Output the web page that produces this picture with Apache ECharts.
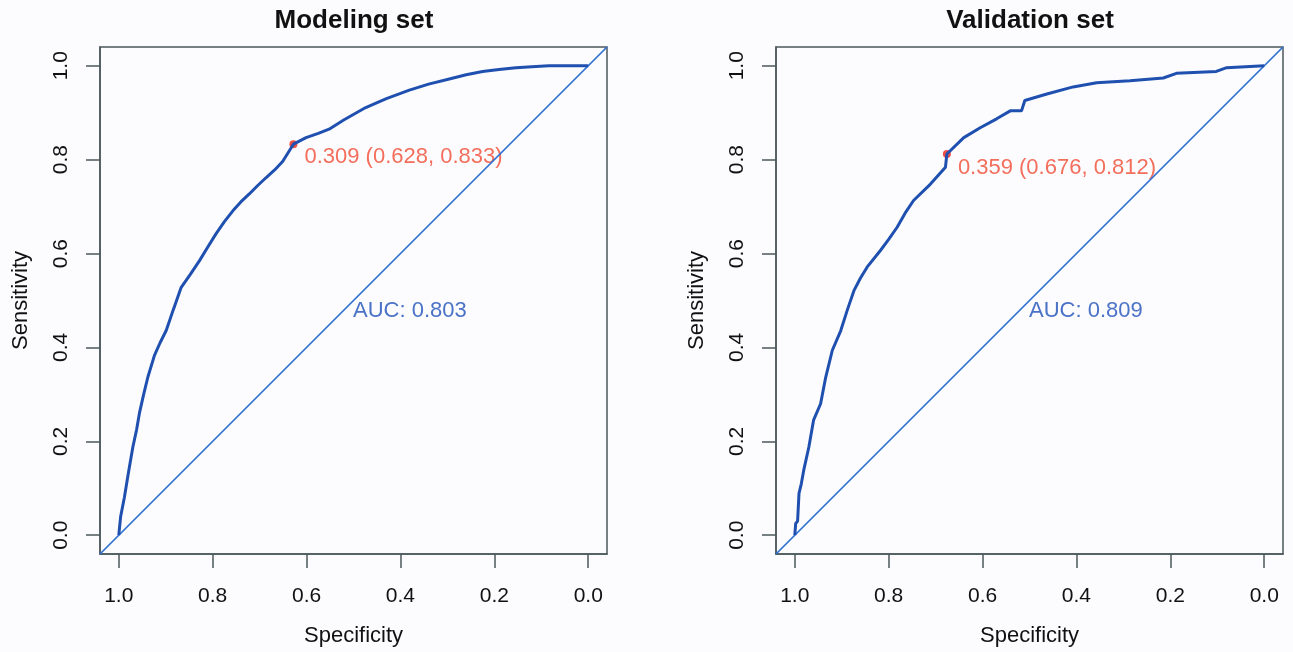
<!DOCTYPE html>
<html>
<head>
<meta charset="utf-8">
<title>ROC curves</title>
<script src="https://cdn.jsdelivr.net/npm/echarts@6/dist/echarts.min.js"></script>
<style>
  html, body { margin: 0; padding: 0; background: #fcfcfe; }
  #chart { width: 1293px; height: 652px; }
</style>
</head>
<body>
<div id="chart"></div>
<script>
// ROC data: specificity / sensitivity pairs
const modelSpec = [1.000, 0.996, 0.988, 0.980, 0.970, 0.962, 0.956, 0.947, 0.938, 0.924, 0.912, 0.899,
  0.884, 0.867, 0.848, 0.828, 0.811, 0.793, 0.775, 0.757, 0.740, 0.722, 0.704, 0.686, 0.668, 0.651,
  0.628, 0.601, 0.575, 0.552, 0.520, 0.474, 0.430, 0.381, 0.340, 0.296, 0.260, 0.225, 0.190, 0.154,
  0.120, 0.084, 0.000]
const modelSens = [0.000, 0.040, 0.081, 0.130, 0.188, 0.225, 0.260, 0.300, 0.337, 0.383, 0.410, 0.436,
  0.480, 0.528, 0.555, 0.585, 0.613, 0.642, 0.668, 0.691, 0.710, 0.727, 0.745, 0.762, 0.778, 0.796,
  0.833, 0.847, 0.856, 0.865, 0.885, 0.911, 0.930, 0.948, 0.961, 0.972, 0.981, 0.988, 0.992, 0.996,
  0.998, 1.000, 1.000]

const validSpec = [1.000, 0.998, 0.998, 0.994, 0.991, 0.986, 0.981, 0.970, 0.960, 0.945, 0.934, 0.920,
  0.902, 0.888, 0.874, 0.860, 0.846, 0.818, 0.800, 0.782, 0.765, 0.747, 0.711, 0.679, 0.676, 0.640,
  0.605, 0.570, 0.541, 0.517, 0.510, 0.463, 0.407, 0.357, 0.286, 0.215, 0.187, 0.102, 0.080, 0.000]
const validSens = [0.000, 0.000, 0.025, 0.030, 0.089, 0.110, 0.138, 0.188, 0.245, 0.280, 0.337, 0.394,
  0.436, 0.480, 0.521, 0.548, 0.571, 0.606, 0.630, 0.656, 0.686, 0.713, 0.748, 0.784, 0.812, 0.847,
  0.868, 0.887, 0.904, 0.904, 0.926, 0.940, 0.955, 0.964, 0.968, 0.974, 0.984, 0.988, 0.996, 1.000]

const panelTitles = ['Modeling set', 'Validation set']
const bestThres = [
  { thres: 0.309, spec: 0.628, sens: 0.833 },
  { thres: 0.359, spec: 0.676, sens: 0.812 }
]
const aucValues = [0.803, 0.809]
const aucPos = [0.5, 0.5]
const tickValues = [0, 0.2, 0.4, 0.6, 0.8, 1.0]
const chanceLine = [[1.04, -0.04], [-0.04, 1.04]]

const font = '"Liberation Sans", Arial, Helvetica, sans-serif'
const boxColor = '#4b585c'
const curveColor = '#1f50b0'
const diagColor = '#2f70d4'
const gridLefts = [100, 776]

function pairs(xs, ys) {
  return xs.map((x, i) => [x, ys[i]])
}

function makeAxis(idx, isX) {
  return {
    type: 'value',
    gridIndex: idx,
    min: -0.04,
    max: 1.04,
    inverse: isX,
    name: isX ? 'Specificity' : 'Sensitivity',
    nameLocation: 'middle',
    nameGap: isX ? 71 : 68,
    nameTextStyle: { fontFamily: font, fontSize: 22, color: '#111' },
    axisLine: { show: true, onZero: false, lineStyle: { color: boxColor, width: 1.5 } },
    axisTick: {
      show: true,
      length: 14,
      customValues: tickValues,
      lineStyle: { color: boxColor, width: 1.5 }
    },
    axisLabel: {
      customValues: tickValues,
      rotate: isX ? 0 : 90,
      margin: isX ? 32 : 28,
      fontFamily: font,
      fontSize: 21,
      color: '#111',
      formatter: v => v.toFixed(1)
    },
    splitLine: { show: false }
  }
}

const curves = [pairs(modelSpec, modelSens), pairs(validSpec, validSens)]
const labelOffsets = [[0, 13], [0, 14]]

const grids = []
const xAxes = []
const yAxes = []
const titles = []
const series = []

for (let i = 0; i < 2; i++) {
  grids.push({
    left: gridLefts[i], top: 47, width: 507, height: 507,
    show: true, borderColor: boxColor, borderWidth: 1.5, backgroundColor: 'transparent'
  })
  xAxes.push(makeAxis(i, true))
  yAxes.push(makeAxis(i, false))
  titles.push({
    text: panelTitles[i],
    left: gridLefts[i] + 254,
    top: 8,
    padding: 0,
    textAlign: 'center',
    textStyle: { fontFamily: font, fontSize: 26, fontWeight: 'bold', color: '#111' }
  })
  series.push({
    type: 'line',
    xAxisIndex: i, yAxisIndex: i,
    data: chanceLine,
    symbol: 'none',
    silent: true,
    lineStyle: { color: diagColor, width: 1.7 }
  })
  series.push({
    type: 'line',
    xAxisIndex: i, yAxisIndex: i,
    data: curves[i],
    symbol: 'none',
    lineStyle: { color: curveColor, width: 3 }
  })
  const b = bestThres[i]
  series.push({
    type: 'scatter',
    xAxisIndex: i, yAxisIndex: i,
    data: [[b.spec, b.sens]],
    symbolSize: 8,
    itemStyle: { color: '#e8241c' },
    label: {
      show: true,
      position: 'right',
      distance: 7,
      offset: labelOffsets[i],
      formatter: b.thres.toFixed(3) + ' (' + b.spec.toFixed(3) + ', ' + b.sens.toFixed(3) + ')',
      fontFamily: font,
      fontSize: 22,
      color: '#f04a32'
    }
  })
  series.push({
    type: 'scatter',
    xAxisIndex: i, yAxisIndex: i,
    data: [aucPos],
    symbolSize: 1,
    silent: true,
    itemStyle: { color: 'rgba(0,0,0,0)' },
    label: {
      show: true,
      position: [0, 0],
      align: 'left',
      verticalAlign: 'top',
      formatter: 'AUC: ' + aucValues[i].toFixed(3),
      fontFamily: font,
      fontSize: 22,
      color: '#1d4fb8'
    }
  })
}

const chart = echarts.init(document.getElementById('chart'))
chart.setOption({
  backgroundColor: '#fcfcfe',
  animation: false,
  title: titles,
  grid: grids,
  xAxis: xAxes,
  yAxis: yAxes,
  series: series
})
window.addEventListener('resize', function() {
  chart.resize()
})
</script>
</body>
</html>
